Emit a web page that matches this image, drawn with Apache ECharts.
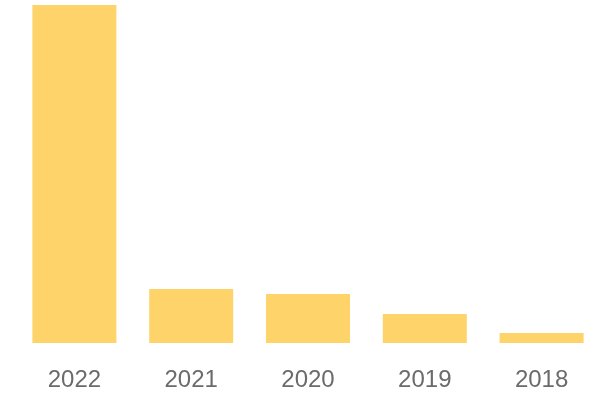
<!DOCTYPE html>
<html>
<head>
<meta charset="utf-8">
<script src="https://cdn.jsdelivr.net/npm/echarts@6/dist/echarts.min.js"></script>
<style>
html,body{margin:0;padding:0;background:#fff;}
#chart{width:600px;height:400px;}
</style>
</head>
<body>
<div id="chart"></div>
<script>
var categories = ["2022", "2021", "2020", "2019", "2018"];
var values = [338, 54, 49, 29, 10];

var chart = echarts.init(document.getElementById('chart'), null, {renderer: 'canvas'});
chart.setOption({
  animation: false,
  grid: {left: 16, right: 0, top: 5, bottom: 57, containLabel: false},
  xAxis: {
    type: 'category',
    data: categories,
    axisLine: {show: false},
    axisTick: {show: false},
    axisLabel: {
      color: '#6b6b6b',
      fontSize: 24,
      fontFamily: 'Liberation Sans, Arial, sans-serif',
      margin: 25
    }
  },
  yAxis: {
    type: 'value',
    min: 0,
    max: 338,
    show: false,
    splitLine: {show: false}
  },
  series: [{
    type: 'bar',
    data: values,
    barWidth: 84,
    itemStyle: {color: '#FED46A'}
  }]
});
</script>
</body>
</html>
